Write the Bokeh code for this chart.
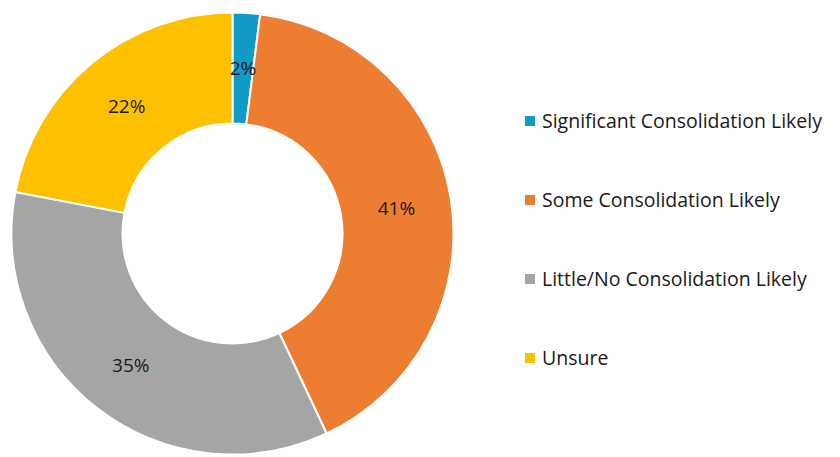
import numpy as np
from bokeh.plotting import figure
from bokeh.models import Range1d, ColumnDataSource, Legend, LegendItem
from bokeh.core.properties import value
from bokeh.embed import file_html
from bokeh.resources import INLINE

categories = ["Significant Consolidation Likely", "Some Consolidation Likely",
              "Little/No Consolidation Likely", "Unsure"]
shares = [2, 41, 35, 22]
colors = ["#0F9BC5", "#ED7D31", "#A5A5A5", "#FFC000"]
labels = ["2%", "41%", "35%", "22%"]

W, H = 840, 457
cx, cy = 232, 224
r_out, r_in, r_lab = 221, 110, 166

frac = np.array(shares, dtype=float) / sum(shares)
cum = np.concatenate([[0], np.cumsum(frac)])
start = np.pi / 2 - cum[:-1] * 2 * np.pi
end = np.pi / 2 - cum[1:] * 2 * np.pi
mid = (start + end) / 2

src = ColumnDataSource(dict(start=start, end=end, color=colors, cat=categories,
                            lx=cx + r_lab * np.cos(mid), ly=cy + r_lab * np.sin(mid),
                            lab=labels, x=[cx] * 4, y=[cy] * 4))

p = figure(width=W, height=H, output_backend="svg", toolbar_location=None,
           x_range=Range1d(0, W), y_range=Range1d(0, H), min_border=0)
p.axis.visible = False
p.grid.visible = False
p.outline_line_color = None
p.background_fill_color = "white"

p.annular_wedge(x="x", y="y", inner_radius=r_in, outer_radius=r_out,
                start_angle="start", end_angle="end", direction="clock",
                fill_color="color", line_color="white", line_width=2, source=src)

p.text(x="lx", y="ly", text="lab", source=src, text_font=value("Open Sans"),
       text_font_size="19px", text_color="#1a1a1a", text_align="center",
       text_baseline="middle")

items = []
for c, col in zip(categories, colors):
    r = p.scatter(x=[-100], y=[-100], marker="square", size=10, fill_color=col,
                  line_color=None)
    items.append(LegendItem(label=c, renderers=[r]))

legend = Legend(items=items, location=(517, 86), padding=0, margin=0,
                border_line_color=None, background_fill_alpha=0,
                label_text_font="Open Sans", label_text_font_size="19.5px",
                label_text_color="#1a1a1a", glyph_width=25, glyph_height=25,
                label_standoff=0, label_height=25, spacing=52)
p.add_layout(legend, "center")

open("out.html", "w").write(file_html(p, INLINE))
